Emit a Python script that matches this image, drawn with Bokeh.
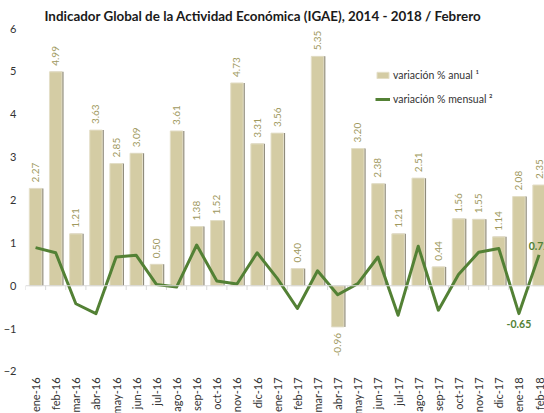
import math
from bokeh.plotting import figure
from bokeh.models import Range1d, FixedTicker, Span, Legend, LegendItem, ColumnDataSource
from bokeh.core.properties import value
from bokeh.embed import file_html
from bokeh.resources import INLINE

months = ["ene-16", "feb-16", "mar-16", "abr-16", "may-16", "jun-16", "jul-16", "ago-16",
          "sep-16", "oct-16", "nov-16", "dic-16", "ene-17", "feb-17", "mar-17", "abr-17",
          "may-17", "jun-17", "jul-17", "ago-17", "sep-17", "oct-17", "nov-17", "dic-17",
          "ene-18", "feb-18"]
annual = [2.27, 4.99, 1.21, 3.63, 2.85, 3.09, 0.50, 3.61, 1.38, 1.52, 4.73, 3.31, 3.56,
          0.40, 5.35, -0.96, 3.20, 2.38, 1.21, 2.51, 0.44, 1.56, 1.55, 1.14, 2.08, 2.35]
monthly = [0.89, 0.77, -0.42, -0.65, 0.67, 0.71, 0.03, -0.03, 0.95, 0.11, 0.04, 0.77,
           0.17, -0.53, 0.35, -0.21, 0.05, 0.67, -0.69, 0.92, -0.57, 0.26, 0.78, 0.87,
           -0.65, 0.72]
monthly_labelled = ["ene-18", "feb-18"]
y_ticks = [-2, -1, 0, 1, 2, 3, 4, 5, 6]

TITLE = "Indicador Global de la Actividad Económica  (IGAE), 2014 - 2018 / Febrero"
FONT = "Lato"
BAR = "#D4CCA4"
SHADOW = "#8F8B7C"
BARLBL = "#A0995E"
GREEN = "#538135"
TXT = "#333333"

idx = list(range(len(months)))

# the category labels live in the strip below the lowest y tick
p = figure(width=544, height=413, output_backend="svg", toolbar_location=None,
           x_axis_location=None,
           x_range=Range1d(-0.5, 25.27), y_range=Range1d(-2.98, 6),
           min_border_left=0, min_border_right=0, min_border_top=0, min_border_bottom=0)
p.outline_line_color = None
p.xgrid.grid_line_color = None
p.ygrid.grid_line_color = None

p.title.text = TITLE
p.title.text_font = FONT
p.title.text_font_size = "13.4px"
p.title.text_font_style = "bold"
p.title.text_color = "#1a1a1a"
p.title.align = "left"
p.title.offset = 19
p.title.standoff = 10

# zero line with category-boundary ticks
p.add_layout(Span(location=0, dimension="width", line_color="#D9D9D9", line_width=1))
bounds = [i - 0.5 for i in idx] + [idx[-1] + 0.5]
p.segment(x0=bounds, x1=bounds, y0=[0] * len(bounds), y1=[-0.1] * len(bounds),
          line_color="#D9D9D9", line_width=1)

# bars with shadow
shadow_x = [i + 0.06 for i in idx]
p.vbar(x=shadow_x, top=annual, bottom=0, width=0.66, fill_color=SHADOW, line_color=None)
bars = p.vbar(x=idx, top=annual, bottom=0, width=0.62, fill_color=BAR,
              line_color="#E4DFC8", line_width=1)

pos = ColumnDataSource(dict(x=[i for i, v in zip(idx, annual) if v >= 0],
                            y=[v for v in annual if v >= 0],
                            t=["%.2f" % v for v in annual if v >= 0]))
neg = ColumnDataSource(dict(x=[i for i, v in zip(idx, annual) if v < 0],
                            y=[v for v in annual if v < 0],
                            t=["%.2f" % v for v in annual if v < 0]))
p.text(x="x", y="y", text="t", source=pos, angle=math.pi / 2, text_align="left",
       text_baseline="middle", y_offset=-6, text_font=value(FONT), text_font_size="10px",
       text_color=BARLBL)
p.text(x="x", y="y", text="t", source=neg, angle=math.pi / 2, text_align="right",
       text_baseline="middle", y_offset=6, text_font=value(FONT), text_font_size="10px",
       text_color=BARLBL)

line = p.line(idx, monthly, line_color=GREEN, line_width=3, line_join="round")

ml_x = [months.index(m) for m in monthly_labelled]
ml_y = [monthly[i] for i in ml_x]
ml_t = ["%.2f" % v for v in ml_y]
for x, y, t in zip(ml_x, ml_y, ml_t):
    if y < 0:
        p.text(x=[x], y=[y], text=[t], text_align="center", text_baseline="top",
               y_offset=6, text_font=value(FONT), text_font_size="10.5px",
               text_font_style="bold", text_color=GREEN)
    else:
        p.text(x=[x], y=[y], text=[t], text_align="center", text_baseline="bottom",
               y_offset=-5, text_font=value(FONT), text_font_size="10.5px",
               text_font_style="bold", text_color=GREEN)

# category labels (x axis), rotated, hanging below the lowest y tick
cat = ColumnDataSource(dict(x=idx, y=[y_ticks[0]] * len(idx), t=months))
p.text(x="x", y="y", text="t", source=cat, angle=math.pi / 2, text_align="right",
       text_baseline="middle", y_offset=6, text_font=value(FONT), text_font_size="11px",
       text_color=TXT)

p.yaxis.ticker = FixedTicker(ticks=y_ticks)
p.yaxis.axis_line_color = None
p.yaxis.major_tick_line_color = None
p.yaxis.minor_tick_line_color = None
p.yaxis.major_tick_out = 0
p.yaxis.minor_tick_out = 0
p.yaxis.major_tick_in = 0
p.yaxis.major_label_standoff = 9
p.yaxis.major_label_text_font = FONT
p.yaxis.major_label_text_font_size = "11px"
p.yaxis.major_label_text_color = TXT

legend = Legend(items=[LegendItem(label="variación % anual ¹", renderers=[bars]),
                       LegendItem(label="variación % mensual ²", renderers=[line])],
                location=(350, 308), orientation="vertical",
                glyph_width=15, glyph_height=8, label_height=12, spacing=12,
                label_standoff=3, padding=0, margin=0,
                border_line_color=None, background_fill_alpha=0,
                label_text_font=FONT, label_text_font_size="10.5px", label_text_color=TXT)
p.add_layout(legend, "center")

open("out.html", "w").write(file_html(p, INLINE))
